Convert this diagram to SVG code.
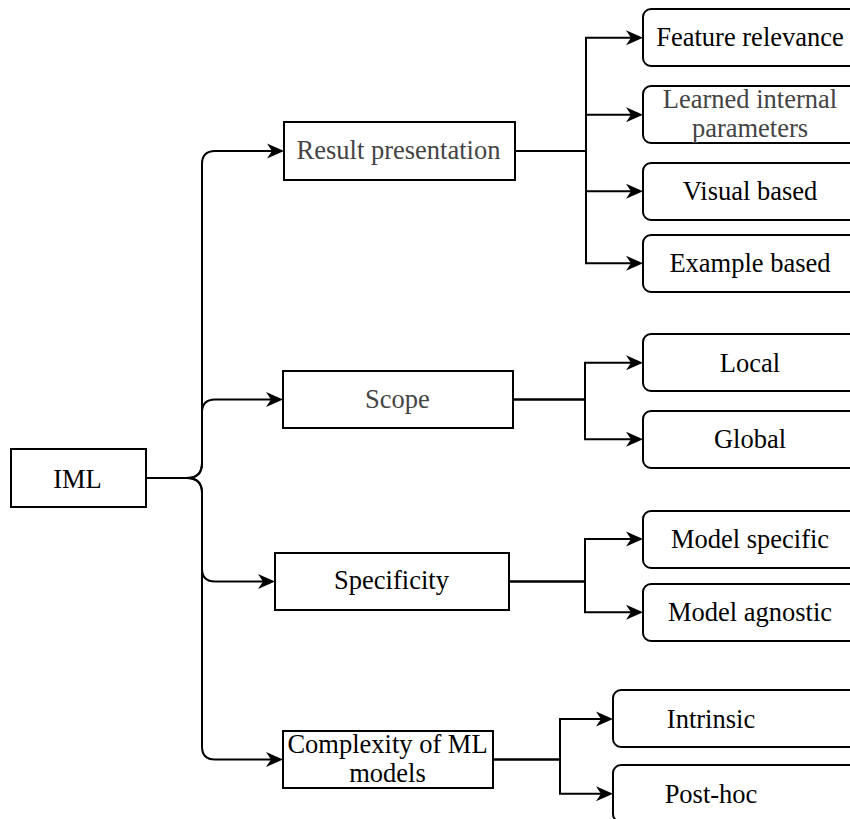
<svg xmlns="http://www.w3.org/2000/svg" width="850" height="819" viewBox="0 0 850 819">
<style>
.box{fill:#fff;stroke:#000;stroke-width:2}
.t{font-family:"Liberation Serif","Times New Roman",serif;font-size:26.5px;text-anchor:middle;fill:#000}
.g{fill:#444}
.e{fill:none;stroke:#000;stroke-width:2}
</style>
<defs>
<marker id="arr" markerUnits="userSpaceOnUse" markerWidth="18" markerHeight="16" refX="5" refY="8" orient="auto" viewBox="0 0 18 16">
<path d="M0,0.5 L17,8 L0,15.5 L5,8 Z" fill="#000"/>
</marker>
</defs>
<rect width="850" height="819" fill="#fff"/>
<g id="connectors">
<path class="e" marker-end="url(#arr)" d="M146,478 H187 Q202,478 202,463 V164 Q202,151 215,151 H272"/>
<path class="e" marker-end="url(#arr)" d="M146,478 H187 Q202,478 202,463 V412.5 Q202,399.5 215,399.5 H271"/>
<path class="e" marker-end="url(#arr)" d="M146,478 H187 Q202,478 202,493 V568.5 Q202,581.5 215,581.5 H263"/>
<path class="e" marker-end="url(#arr)" d="M146,478 H187 Q202,478 202,493 V746.5 Q202,759.5 215,759.5 H271"/>
<path class="e" marker-end="url(#arr)" d="M515,151 H586 V37.7 H631"/>
<path class="e" marker-end="url(#arr)" d="M515,151 H586 V114.7 H631"/>
<path class="e" marker-end="url(#arr)" d="M515,151 H586 V191.3 H631"/>
<path class="e" marker-end="url(#arr)" d="M515,151 H586 V263.3 H631"/>
<path class="e" marker-end="url(#arr)" d="M513,399.5 H585 V362.7 H631"/>
<path class="e" marker-end="url(#arr)" d="M513,399.5 H585 V439.3 H631"/>
<path class="e" marker-end="url(#arr)" d="M509,581.5 H585 V539 H631"/>
<path class="e" marker-end="url(#arr)" d="M509,581.5 H585 V612.3 H631"/>
<path class="e" marker-end="url(#arr)" d="M493,759.5 H560 V719 H601"/>
<path class="e" marker-end="url(#arr)" d="M493,759.5 H560 V793.7 H601"/>
</g>
<g id="iml"><rect class="box" x="11" y="449" width="135" height="58"/><text class="t" x="77.5" y="487.5">IML</text></g>
<g id="result-presentation"><rect class="box" x="284" y="122" width="231" height="58"/><text class="t g" x="398.5" y="158.5">Result presentation</text></g>
<g id="scope"><rect class="box" x="283" y="371" width="230" height="57"/><text class="t g" x="397.5" y="408">Scope</text></g>
<g id="specificity"><rect class="box" x="275" y="553" width="234" height="57"/><text class="t" x="391.5" y="589">Specificity</text></g>
<g id="complexity"><rect class="box" x="283" y="731" width="210" height="57"/><text class="t" x="387.5" y="753"><tspan x="387.5">Complexity of ML</tspan><tspan x="387.5" y="782">models</tspan></text></g>
<g id="feature-relevance"><rect class="box" x="643" y="9" width="220" height="57" rx="8"/><text class="t" x="750" y="46">Feature relevance</text></g>
<g id="learned-internal"><rect class="box" x="643" y="86" width="220" height="57" rx="8"/><text class="t g" x="750" y="107.5"><tspan x="750">Learned internal</tspan><tspan x="750" y="136.5">parameters</tspan></text></g>
<g id="visual-based"><rect class="box" x="643" y="163" width="220" height="57" rx="8"/><text class="t" x="750" y="200">Visual based</text></g>
<g id="example-based"><rect class="box" x="643" y="235" width="220" height="57" rx="8"/><text class="t" x="750" y="272">Example based</text></g>
<g id="local"><rect class="box" x="643" y="334" width="220" height="57" rx="8"/><text class="t" x="750" y="371.5">Local</text></g>
<g id="global"><rect class="box" x="643" y="411" width="220" height="57" rx="8"/><text class="t" x="750" y="448">Global</text></g>
<g id="model-specific"><rect class="box" x="643" y="511" width="220" height="57" rx="8"/><text class="t" x="750" y="548">Model specific</text></g>
<g id="model-agnostic"><rect class="box" x="643" y="584" width="220" height="57" rx="8"/><text class="t" x="750" y="621">Model agnostic</text></g>
<g id="intrinsic"><rect class="box" x="613" y="690" width="250" height="57" rx="8"/><text class="t" x="711" y="728">Intrinsic</text></g>
<g id="post-hoc"><rect class="box" x="613" y="765" width="250" height="57" rx="8"/><text class="t" x="711" y="802.5">Post-hoc</text></g>
</svg>
